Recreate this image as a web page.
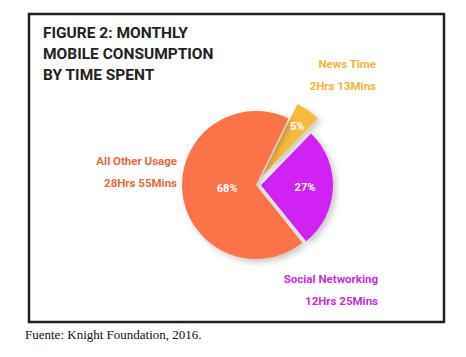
<!DOCTYPE html>
<html>
<head>
<meta charset="utf-8">
<script src="https://cdn.jsdelivr.net/npm/d3@7"></script>
<style>
  body { margin: 0; background: #fff; }
  svg { display: block; }
</style>
</head>
<body>
<div id="chart"></div>
<script>
// slices, clockwise starting from the news wedge
const categories = ["News Time", "Social Networking", "All Other Usage"];
const shares = [5, 27, 68];
const durations = ["2Hrs 13Mins", "12Hrs 25Mins", "28Hrs 55Mins"];
const titleLines = ["FIGURE 2: MONTHLY", "MOBILE CONSUMPTION", "BY TIME SPENT"];
const source = "Fuente: Knight Foundation, 2016.";

const width = 466;
const height = 357;

const fills = ["#f6b942", "#d022f2", "#fa7349"];
const textColors = ["#f2b53c", "#c72ee4", "#f0653c"];
const explode = [11, 5, 0];
const outer = [80, 72, 74];

// where each category label sits (right aligned)
const labelPos = [
  { x: 376, y: 68 },
  { x: 378, y: 283 },
  { x: 177, y: 165 },
];

const svg = d3
  .select("#chart")
  .append("svg")
  .attr("width", width)
  .attr("height", height);

const shadow = svg
  .append("defs")
  .append("filter")
  .attr("id", "shadow")
  .attr("x", "-30%")
  .attr("y", "-30%")
  .attr("width", "160%")
  .attr("height", "160%");
shadow
  .append("feDropShadow")
  .attr("dx", 3)
  .attr("dy", 3)
  .attr("stdDeviation", 3)
  .attr("flood-color", "#000")
  .attr("flood-opacity", 0.22);

// frame
svg
  .append("rect")
  .attr("x", 29)
  .attr("y", 14)
  .attr("width", 415)
  .attr("height", 308)
  .attr("fill", "none")
  .attr("stroke", "#231f20")
  .attr("stroke-width", 2.5);

svg
  .append("g")
  .selectAll("text")
  .data(titleLines)
  .join("text")
  .attr("x", 43)
  .attr("y", (d, i) => 38 + i * 21)
  .attr("font-family", "Roboto, sans-serif")
  .attr("font-weight", 700)
  .attr("font-size", 15.5)
  .attr("fill", "#222")
  .text((d) => d);

const cx = 256;
const cy = 185;

const pie = d3
  .pie()
  .sort(null)
  .value((d) => d)
  .startAngle((26 * Math.PI) / 180)
  .endAngle((26 * Math.PI) / 180 + 2 * Math.PI);

const arcs = pie(shares);
const arc = d3
  .arc()
  .innerRadius(0)
  .outerRadius((d) => outer[d.index]);

const pieG = svg
  .append("g")
  .attr("transform", `translate(${cx},${cy})`);

const offset = (d, i) => {
  const a = (d.startAngle + d.endAngle) / 2;
  return [Math.sin(a) * explode[i], -Math.cos(a) * explode[i]];
};

pieG
  .selectAll("path")
  .data(arcs)
  .join("path")
  .attr("transform", (d, i) => `translate(${offset(d, i)})`)
  .attr("d", arc)
  .attr("fill", (d, i) => fills[i])
  .attr("filter", "url(#shadow)");

const pctRadius = [61, 44, 29];

pieG
  .selectAll("text")
  .data(arcs)
  .join("text")
  .attr("transform", (d, i) => {
    const a = (d.startAngle + d.endAngle) / 2;
    const [ox, oy] = offset(d, i);
    const r = pctRadius[i];
    return `translate(${ox + Math.sin(a) * r},${oy - Math.cos(a) * r})`;
  })
  .attr("text-anchor", "middle")
  .attr("dy", "0.35em")
  .attr("font-family", "Roboto, sans-serif")
  .attr("font-weight", 700)
  .attr("font-size", 11)
  .attr("fill", "#fff")
  .text((d) => `${d.data}%`);

const labels = svg
  .append("g")
  .selectAll("g")
  .data(categories)
  .join("g")
  .attr("font-family", "Roboto, sans-serif")
  .attr("font-weight", 700)
  .attr("font-size", 11.5)
  .attr("text-anchor", "end")
  .attr("fill", (d, i) => textColors[i]);

labels
  .append("text")
  .attr("x", (d, i) => labelPos[i].x)
  .attr("y", (d, i) => labelPos[i].y)
  .text((d) => d);

labels
  .append("text")
  .attr("x", (d, i) => labelPos[i].x)
  .attr("y", (d, i) => labelPos[i].y + 21.5)
  .text((d, i) => durations[i]);

svg
  .append("text")
  .attr("x", 25)
  .attr("y", 339)
  .attr("font-family", "'Liberation Serif', 'Times New Roman', serif")
  .attr("font-size", 13)
  .attr("fill", "#111")
  .text(source);
</script>
</body>
</html>
